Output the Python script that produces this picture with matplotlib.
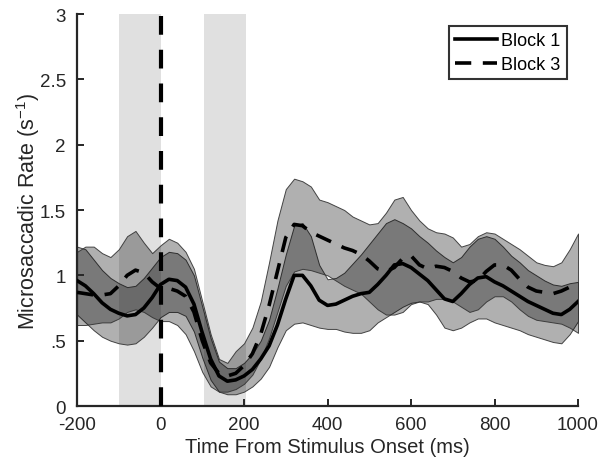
import matplotlib
matplotlib.use("Agg")
import matplotlib.pyplot as plt
import numpy as np

plt.rcParams["font.family"] = ["Liberation Sans", "DejaVu Sans"]
plt.rcParams["mathtext.fontset"] = "custom"
plt.rcParams["mathtext.rm"] = "Liberation Sans"
plt.rcParams["axes.unicode_minus"] = False

# ── Data ────────────────────────────────────────────────────────────────
time_ms = np.arange(-200, 1001, 20)

block1_mean = [0.96, 0.92, 0.86, 0.79, 0.74, 0.71, 0.69, 0.70, 0.75, 0.83,
               0.93, 0.97, 0.96, 0.91, 0.78, 0.56, 0.36, 0.23, 0.19, 0.20,
               0.23, 0.28, 0.36, 0.46, 0.62, 0.82, 1.00, 1.00, 0.92, 0.81,
               0.77, 0.78, 0.81, 0.84, 0.86, 0.87, 0.93, 1.00, 1.08, 1.09,
               1.06, 1.01, 0.96, 0.89, 0.82, 0.80, 0.86, 0.93, 0.98, 0.99,
               0.95, 0.92, 0.88, 0.84, 0.80, 0.77, 0.74, 0.71, 0.70, 0.74,
               0.80]
block1_upper = [1.22, 1.20, 1.12, 1.04, 0.98, 0.94, 0.91, 0.92, 0.98, 1.06,
                1.14, 1.18, 1.17, 1.12, 1.00, 0.76, 0.52, 0.34, 0.29, 0.29,
                0.33, 0.40, 0.50, 0.66, 0.90, 1.16, 1.38, 1.40, 1.30, 1.08,
                0.97, 0.98, 1.02, 1.09, 1.16, 1.24, 1.32, 1.40, 1.43, 1.40,
                1.36, 1.30, 1.25, 1.19, 1.14, 1.10, 1.14, 1.22, 1.28, 1.30,
                1.28, 1.22, 1.15, 1.10, 1.04, 1.00, 0.96, 0.93, 0.92, 0.94,
                0.95]
block1_lower = [0.70, 0.64, 0.58, 0.53, 0.50, 0.48, 0.47, 0.48, 0.53, 0.60,
                0.68, 0.72, 0.72, 0.69, 0.57, 0.37, 0.20, 0.11, 0.09, 0.09,
                0.11, 0.15, 0.21, 0.30, 0.45, 0.58, 0.63, 0.64, 0.62, 0.60,
                0.59, 0.59, 0.57, 0.56, 0.56, 0.58, 0.64, 0.68, 0.72, 0.76,
                0.79, 0.80, 0.78, 0.70, 0.60, 0.58, 0.60, 0.64, 0.67, 0.67,
                0.64, 0.62, 0.60, 0.58, 0.55, 0.53, 0.51, 0.49, 0.48, 0.55,
                0.65]

block3_mean = [0.87, 0.86, 0.85, 0.85, 0.86, 0.92, 1.00, 1.04, 1.02, 0.95,
               0.90, 0.90, 0.88, 0.84, 0.72, 0.50, 0.33, 0.25, 0.23, 0.25,
               0.31, 0.40, 0.55, 0.77, 1.03, 1.29, 1.39, 1.38, 1.33, 1.30,
               1.27, 1.24, 1.21, 1.19, 1.16, 1.11, 1.05, 1.03, 1.06, 1.13,
               1.15, 1.08, 1.05, 1.07, 1.06, 1.03, 0.98, 0.95, 0.96, 1.03,
               1.08, 1.08, 1.04, 0.97, 0.91, 0.88, 0.87, 0.86, 0.88, 0.91,
               0.94]
block3_upper = [1.18, 1.22, 1.22, 1.17, 1.14, 1.20, 1.30, 1.34, 1.25, 1.17,
                1.23, 1.28, 1.25, 1.18, 1.05, 0.80, 0.55, 0.36, 0.33, 0.42,
                0.48, 0.60, 0.80, 1.10, 1.42, 1.66, 1.74, 1.72, 1.68, 1.58,
                1.56, 1.53, 1.50, 1.45, 1.42, 1.39, 1.40, 1.48, 1.58, 1.60,
                1.50, 1.42, 1.36, 1.33, 1.32, 1.29, 1.22, 1.24, 1.30, 1.33,
                1.32, 1.28, 1.24, 1.20, 1.15, 1.10, 1.08, 1.07, 1.10, 1.20,
                1.32]
block3_lower = [0.62, 0.62, 0.63, 0.64, 0.64, 0.67, 0.72, 0.74, 0.72, 0.68,
                0.65, 0.65, 0.62, 0.55, 0.42, 0.26, 0.15, 0.11, 0.11, 0.13,
                0.17, 0.24, 0.36, 0.52, 0.72, 0.92, 1.03, 1.05, 1.04, 1.02,
                1.00, 0.96, 0.92, 0.89, 0.86, 0.80, 0.74, 0.70, 0.70, 0.72,
                0.78, 0.80, 0.80, 0.82, 0.82, 0.80, 0.76, 0.72, 0.74, 0.80,
                0.84, 0.84, 0.80, 0.74, 0.69, 0.66, 0.65, 0.64, 0.63, 0.60,
                0.56]

shade_windows = [(-100, 0), (105, 205)]
x_ticks = [-200, 0, 200, 400, 600, 800, 1000]
y_ticks = [0, 0.5, 1, 1.5, 2, 2.5, 3]
y_ticklabels = ["0", ".5", "1", "1.5", "2", "2.5", "3"]

# ── Plot ─────────────────────────────────────────────────────────────────
ink = "#262626"
fig = plt.figure(figsize=(6.07, 4.64), dpi=100)
ax = fig.add_axes([0.1269, 0.1228, 0.8254, 0.8448])

for lo, hi in shade_windows:
    ax.axvspan(lo, hi, color="#e0e0e0", lw=0, zorder=0)

for upper, lower in [(block1_upper, block1_lower), (block3_upper, block3_lower)]:
    ax.fill_between(time_ms, lower, upper, facecolor=(0, 0, 0, 0.31),
                    edgecolor=(0.2, 0.2, 0.2, 0.9), lw=0.7, zorder=1)

ax.axvline(0, color="black", lw=3, dashes=(4.5, 3.6), zorder=3)

ax.plot(time_ms, block1_mean, color="black", lw=2.6, label="Block 1", zorder=4)
ax.plot(time_ms, block3_mean, color="black", lw=2.6, dashes=(4.5, 3.2),
        label="Block 3", zorder=4)

ax.set_xlim(-200, 1000)
ax.set_ylim(0, 3)
ax.set_xticks(x_ticks)
ax.set_yticks(y_ticks)
ax.set_yticklabels(y_ticklabels)

for side in ["top", "right"]:
    ax.spines[side].set_visible(False)
for side in ["left", "bottom"]:
    ax.spines[side].set_linewidth(1.6)
    ax.spines[side].set_color(ink)
ax.tick_params(direction="in", length=5, width=1.4, colors=ink,
               labelsize=13.5, labelcolor=ink)
ax.tick_params(axis="x", pad=7)
ax.tick_params(axis="y", pad=8)

ax.set_xlabel("Time From Stimulus Onset (ms)", fontsize=14.5, color=ink,
              labelpad=3)
ax.set_ylabel(r"Microsaccadic Rate (s$^{\mathregular{-1}}$)", fontsize=15.5,
              color=ink, labelpad=-2)

leg = ax.legend(loc="upper right", bbox_to_anchor=(0.978, 0.97),
                fontsize=13, frameon=True, fancybox=False,
                handlelength=2.3, handletextpad=0.25, borderpad=0.35,
                labelspacing=0.38, borderaxespad=0)
leg.get_frame().set_edgecolor("black")
leg.get_frame().set_linewidth(1.5)

fig.savefig("out.png", dpi=100)
